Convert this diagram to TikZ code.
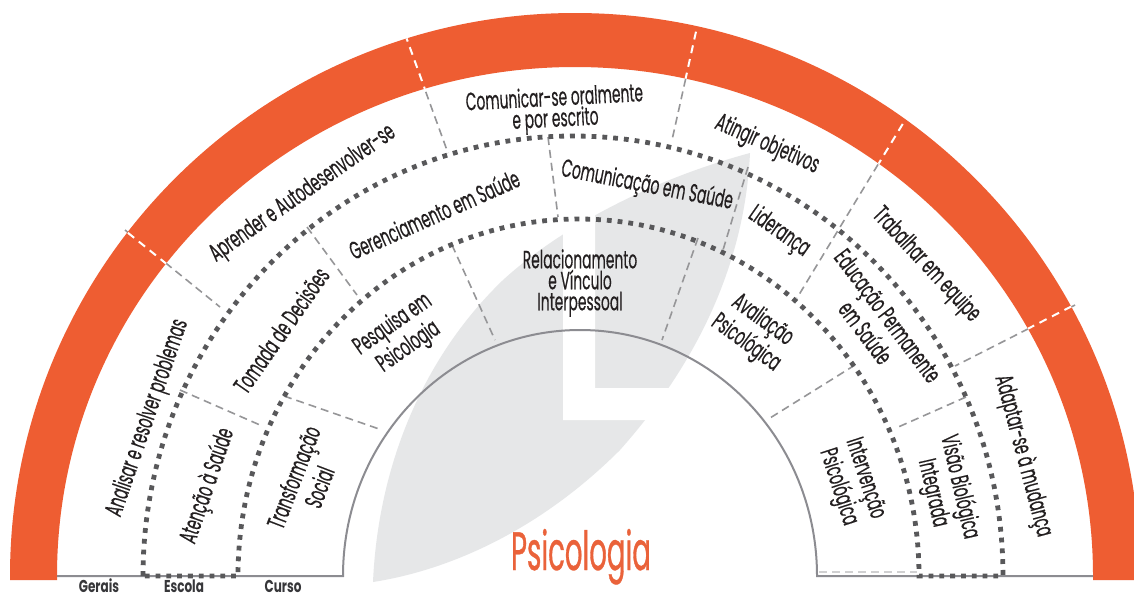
\documentclass[tikz,border=0pt]{standalone}
\usepackage{fontspec}
\setmainfont{Poppins}[FakeStretch=0.555, FakeBold=0.4]
\newfontfamily\psifont{Poppins}[FakeStretch=0.51, FakeBold=0.6]
\newfontfamily\footfont{Poppins}[FakeStretch=0.7]
\definecolor{orng}{RGB}{238,93,50}
\definecolor{leaf}{RGB}{230,231,232}
\definecolor{dvgray}{RGB}{150,150,152}
\definecolor{dotgray}{RGB}{88,88,90}
\definecolor{arcgray}{RGB}{140,140,145}
\definecolor{txt}{RGB}{35,31,32}
\definecolor{foottxt}{RGB}{55,55,58}
\definecolor{psi}{RGB}{234,98,58}
\begin{document}
\begin{tikzpicture}[x=0.5pt,y=-0.5pt,
  divider/.style={draw=dvgray, line width=0.8pt, dash pattern=on 4pt off 2.5pt},
  wdivider/.style={draw=white, line width=1pt, dash pattern=on 4pt off 3pt},
  dotring/.style={draw=dotgray, line width=2.4pt, dash pattern=on 2.4pt off 3pt},
  lbl/.style={font=\fontsize{12.5}{10.5}\selectfont, text=txt, align=center, inner sep=0pt},
  foot/.style={font=\footfont\fontsize{8.6}{8.6}\selectfont\bfseries, text=foottxt, anchor=base, inner sep=0pt}]

\useasboundingbox (0,0) rectangle (1134,596);
\fill[white] (0,0) rectangle (1134,596);

% leaf background
\fill[leaf] (373,582) .. controls (378,470) and (420,360) .. (503,280)
  .. controls (560,228) and (650,180) .. (750,153)
  .. controls (745,260) and (700,360) .. (620,450)
  .. controls (540,530) and (450,570) .. (373,582) -- cycle;
\fill[white] (563,140) -- (595,140) -- (595,388) -- (760,388) -- (760,420) -- (563,420) -- cycle;

% dividers (light gray dashed)
\draw[divider] (125,230) -- (220,307);
\draw[divider] (408,43) -- (448,153);
\draw[divider] (697,28) -- (672,140);
\draw[divider] (905,120) -- (797,298);
\draw[divider] (1075,305) -- (955,366);
\draw[divider] (180,390) -- (260,425);
\draw[divider] (307,227) -- (357,295);
\draw[divider] (548,137) -- (558,217);
\draw[divider] (748,167) -- (723,250);
\draw[divider] (966,397) -- (896,428);
\draw[divider] (284,396) -- (382,430);
\draw[divider] (452,245) -- (495,340);
\draw[divider] (698,238) -- (662,340);
\draw[divider] (855,365) -- (770,418);
\draw[divider, draw=dvgray!45] (819,572) -- (917,572);

% orange band
\fill[orng] (10,580) -- (10,576) arc[start angle=180, end angle=360, x radius=565, y radius=563]
  -- (1140,580) -- (1093,580) -- (1093,576) arc[start angle=360, end angle=180, x radius=518, y radius=509]
  -- (57,580) -- cycle;
\begin{scope}
\clip (10,580) -- (10,576) arc[start angle=180, end angle=360, x radius=565, y radius=563]
  -- (1140,580) -- (1093,580) -- (1093,576) arc[start angle=360, end angle=180, x radius=518, y radius=509]
  -- (57,580) -- cycle;
\draw[wdivider] (117,224) -- (220,307);
\draw[wdivider] (405,34) -- (448,153);
\draw[wdivider] (699,18) -- (672,140);
\draw[wdivider] (910,112) -- (797,298);
\draw[wdivider] (1084,300) -- (955,366);
\end{scope}

% baseline and inner arc
\draw[arcgray, line width=1pt] (57,576) -- (343,576) arc[start angle=180, end angle=360, x radius=237, y radius=246] -- (1093,576);

% dotted rings
\draw[dotring] (143,576) arc[start angle=180, end angle=360, x radius=430, y radius=440]
  -- (919,576) arc[start angle=360, end angle=180, x radius=340.5, y radius=357] -- cycle;

% outer band labels
\node[lbl, rotate=71] (t1) at (148,418) {Analisar e resolver problemas};
\node[lbl, rotate=35] (t2) at (303,194) {Aprender e Autodesenvolver-se};
\node[lbl, rotate=3] (t3) at (555,110) {Comunicar-se oralmente\\e por escrito};
\node[lbl, rotate=-24] (t4) at (767,145) {Atingir objetivos};
\node[lbl, rotate=-47] (t5) at (926,265) {Trabalhar em equipe};
\node[lbl, rotate=-75] (t6) at (1023,456) {Adaptar-se à mudança};

% middle band labels
\node[lbl, rotate=71] (m1) at (208,486) {Atenção à Saúde};
\node[lbl, rotate=55] (m2) at (281,330) {Tomada de Decisões};
\node[lbl, rotate=24] (m3) at (434,214) {Gerenciamento em Saúde};
\node[lbl, rotate=-11] (m4) at (647,186) {Comunicação em Saúde};
\node[lbl, rotate=-35] (m5) at (779,232) {Liderança};
\node[lbl, rotate=-53] (m6) at (877,324) {Educação Permanente\\em Saúde};
\node[lbl, rotate=-77] (m7) at (946,490) {Visão Biológica\\Integrada};

% inner band labels
\node[lbl, rotate=69] (i1) at (306,482) {Transformação\\Social};
\node[lbl, rotate=35] (i2) at (401,336) {Pesquisa em\\Psicologia};
\node[lbl] (i3) at (580,283) {Relacionamento\\e Vínculo\\Interpessoal};
\node[lbl, rotate=-36] (i4) at (754,332) {Avaliação\\Psicológica};
\node[lbl, rotate=-72] (i5) at (851,483) {Intervenção\\Psicológica};

% centre
\node[font=\psifont\fontsize{27}{27}\selectfont, text=psi, anchor=base, inner sep=0pt] (psi) at (581,570) {Psicologia};

% footer
\node[foot] (g) at (99,592) {Gerais};
\node[foot] (e) at (184,592) {Escola};
\node[foot] (c) at (283,592) {Curso};
\end{tikzpicture}
\end{document}
